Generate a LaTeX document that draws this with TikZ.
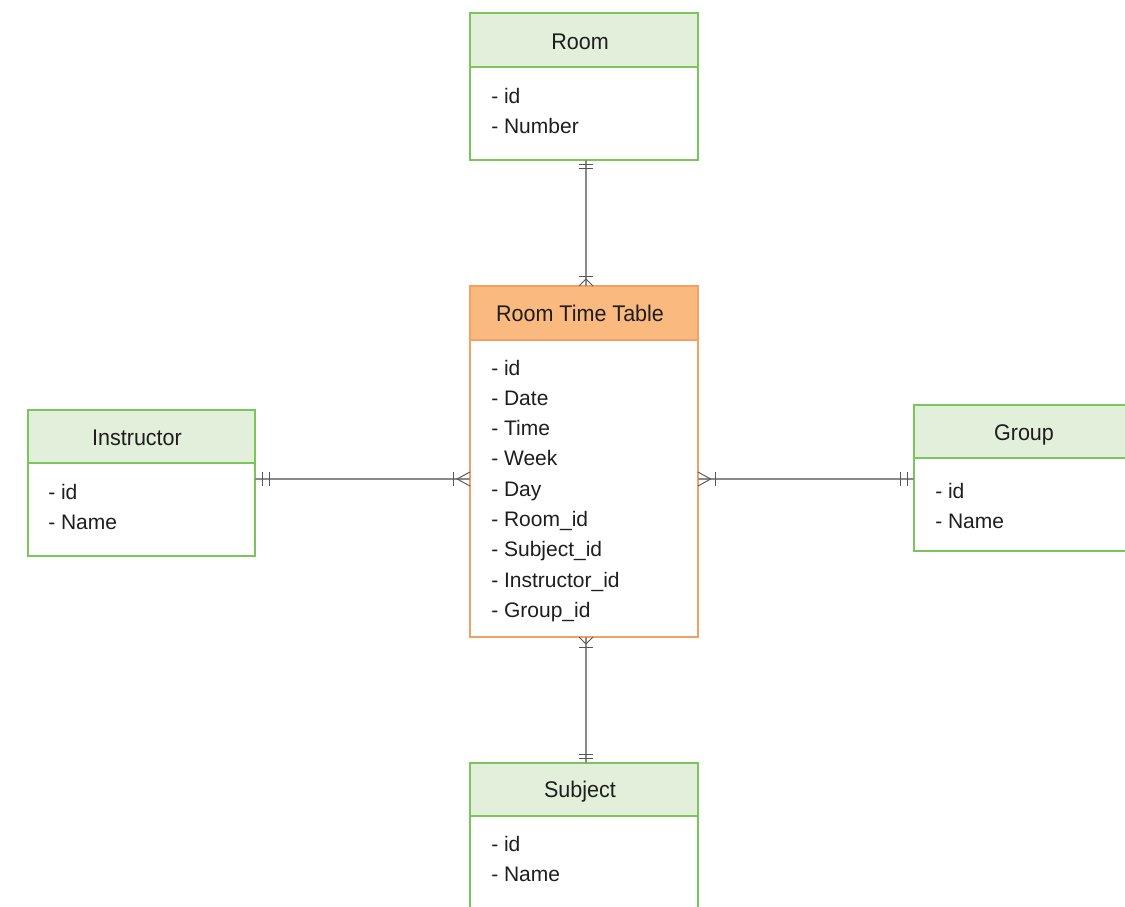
\documentclass[tikz,border=0pt]{standalone}
\usepackage{fontspec}
\setmainfont{Liberation Sans}
\newfontfamily\hdrfont[FakeStretch=0.95]{Liberation Sans}
\usetikzlibrary{decorations.markings,fit,calc}
\definecolor{hdrgreen}{HTML}{E2EFDA}
\definecolor{brdgreen}{HTML}{7CC45C}
\definecolor{hdrorange}{HTML}{FAB97F}
\definecolor{brdorange}{HTML}{F2A064}
\definecolor{linegray}{HTML}{8A8A8A}
\definecolor{markgray}{HTML}{555555}
\definecolor{txt}{HTML}{1E1E1E}
\tikzset{
  boxfit/.style={inner sep=0pt, outer sep=0pt},
  title/.style={anchor=base, inner sep=0pt, text=txt, font=\hdrfont\fontsize{17}{20}\selectfont},
  attr/.style={anchor=base west, inner sep=0pt, text=txt, font=\fontsize{15.75}{18}\selectfont},
  gborder/.style={draw=brdgreen, line width=0.8pt},
  oborder/.style={draw=brdorange, line width=0.8pt},
  conn/.style={draw=linegray, line width=0.9pt},
  mk/.style={draw=markgray, line width=0.7pt},
  onestart/.style 2 args={postaction={decorate, decoration={markings,
     mark=at position #1 with {\draw[mk] (0,-5.25pt) -- (0,5.25pt);},
     mark=at position #2 with {\draw[mk] (0,-5.25pt) -- (0,5.25pt);}}}},
  oneend/.style 2 args={postaction={decorate, decoration={markings,
     mark=at position -#1 with {\draw[mk] (0,-5.25pt) -- (0,5.25pt);},
     mark=at position -#2 with {\draw[mk] (0,-5.25pt) -- (0,5.25pt);}}}},
  manyend/.style 2 args={postaction={decorate, decoration={markings,
     mark=at position -#1 with {\draw[mk] (0,-5.25pt) -- (0,5.25pt);},
     mark=at position 1 with {\draw[mk] (-#2,0) -- (0,5.25pt) (-#2,0) -- (0,-5.25pt);}}}},
  manystart/.style 2 args={postaction={decorate, decoration={markings,
     mark=at position #1 with {\draw[mk] (0,-5.25pt) -- (0,5.25pt);},
     mark=at position 0 with {\draw[mk] (#2,0) -- (0,5.25pt) (#2,0) -- (0,-5.25pt);}}}},
}
\begin{document}
\begin{tikzpicture}[x=0.75pt, y=-0.75pt]
\useasboundingbox (0,0) rectangle (1125,907);
\clip (0,0) rectangle (1125,907);
\fill[white] (0,0) rectangle (1125,907);

% ---------- Room ----------
\coordinate (roomNW) at (470,13);
\coordinate (roomSE) at (698,160);
\node[boxfit, fit=(roomNW)(roomSE)] (room) {};
\fill[hdrgreen] (room.north west) rectangle ($(room.north east)+(0,54)$);
\draw[gborder] (room.north west) rectangle (room.south east);
\draw[gborder] ($(room.north west)+(0,54)$) -- ($(room.north east)+(0,54)$);
\node[title] (roomT) at (580,49) {Room};
\node[attr] (roomA1) at (491,103) {- id};
\node[attr] (roomA2) at (491,133) {- Number};

% ---------- Room Time Table ----------
\coordinate (rttNW) at (470,286);
\coordinate (rttSE) at (698,637);
\node[boxfit, fit=(rttNW)(rttSE)] (rtt) {};
\fill[hdrorange] (rtt.north west) rectangle ($(rtt.north east)+(0,54)$);
\draw[oborder] (rtt.north west) rectangle (rtt.south east);
\draw[oborder] ($(rtt.north west)+(0,54)$) -- ($(rtt.north east)+(0,54)$);
\node[title] (rttT) at (580,321) {Room Time Table};
\node[attr] (rttA1) at (491,375) {- id};
\node[attr] (rttA2) at (491,405.3) {- Date};
\node[attr] (rttA3) at (491,435.6) {- Time};
\node[attr] (rttA4) at (491,465.9) {- Week};
\node[attr] (rttA5) at (491,496.2) {- Day};
\node[attr] (rttA6) at (491,526.5) {- Room\_id};
\node[attr] (rttA7) at (491,556.8) {- Subject\_id};
\node[attr] (rttA8) at (491,587.1) {- Instructor\_id};
\node[attr] (rttA9) at (491,617.4) {- Group\_id};

% ---------- Instructor ----------
\coordinate (insNW) at (28,410);
\coordinate (insSE) at (255,556);
\node[boxfit, fit=(insNW)(insSE)] (ins) {};
\fill[hdrgreen] (ins.north west) rectangle ($(ins.north east)+(0,53)$);
\draw[gborder] (ins.north west) rectangle (ins.south east);
\draw[gborder] ($(ins.north west)+(0,53)$) -- ($(ins.north east)+(0,53)$);
\node[title] (insT) at (137,445) {Instructor};
\node[attr] (insA1) at (48,499) {- id};
\node[attr] (insA2) at (48,529) {- Name};

% ---------- Group ----------
\coordinate (grpNW) at (914,405);
\coordinate (grpSE) at (1142,551);
\node[boxfit, fit=(grpNW)(grpSE)] (grp) {};
\fill[hdrgreen] (grp.north west) rectangle ($(grp.north east)+(0,53)$);
\draw[gborder] (grp.north west) rectangle (grp.south east);
\draw[gborder] ($(grp.north west)+(0,53)$) -- ($(grp.north east)+(0,53)$);
\node[title] (grpT) at (1024,440) {Group};
\node[attr] (grpA1) at (935,498) {- id};
\node[attr] (grpA2) at (935,528) {- Name};

% ---------- Subject ----------
\coordinate (subNW) at (470,763);
\coordinate (subSE) at (698,910);
\node[boxfit, fit=(subNW)(subSE)] (sub) {};
\fill[hdrgreen] (sub.north west) rectangle ($(sub.north east)+(0,53)$);
\draw[gborder] (sub.north west) rectangle (sub.south east);
\draw[gborder] ($(sub.north west)+(0,53)$) -- ($(sub.north east)+(0,53)$);
\node[title] (subT) at (580,797.5) {Subject};
\node[attr] (subA1) at (491,851) {- id};
\node[attr] (subA2) at (491,881) {- Name};

% ---------- Connectors ----------
\coordinate (vx) at (586,0);
\coordinate (hy) at (0,479);
\draw[conn, onestart={3pt}{6.4pt}, manyend={7.5pt}{5.25pt}]
  (vx |- room.south) -- (vx |- rtt.north);
\draw[conn, manystart={7.5pt}{5.25pt}, oneend={3.2pt}{6.3pt}]
  (vx |- rtt.south) -- (vx |- sub.north);
\draw[conn, onestart={5.8pt}{10.7pt}, manyend={12.75pt}{9.75pt}]
  (ins.east |- hy) -- (rtt.west |- hy);
\draw[conn, manystart={13pt}{9.5pt}, oneend={5pt}{10.5pt}]
  (rtt.east |- hy) -- (grp.west |- hy);
\end{tikzpicture}
\end{document}
